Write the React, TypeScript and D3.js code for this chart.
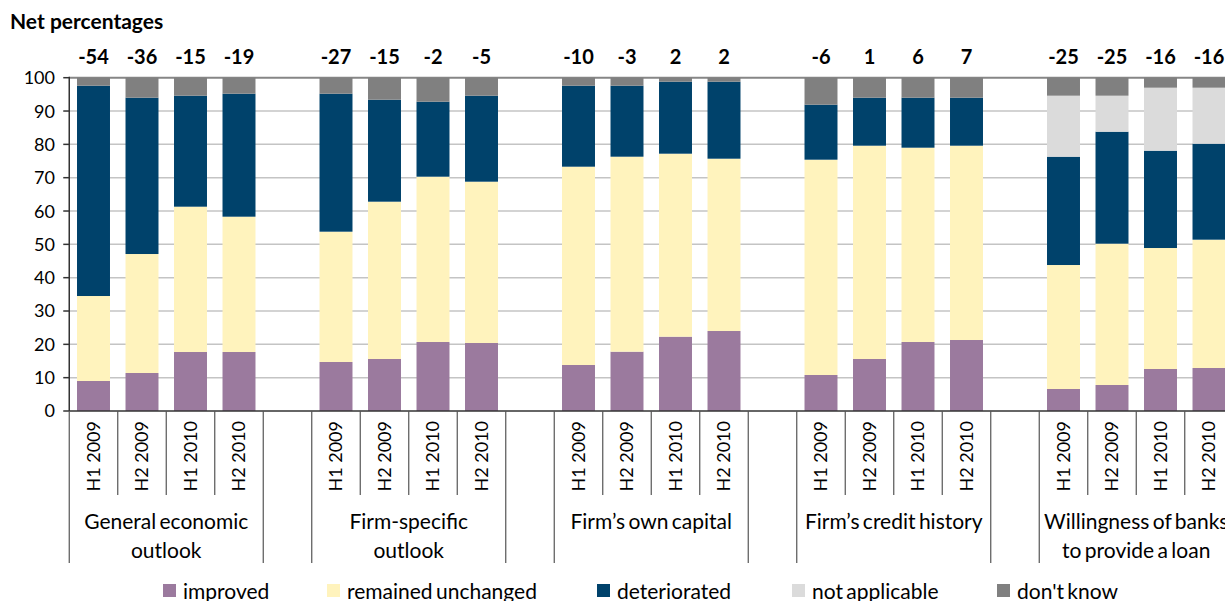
import React from "react";
import * as d3 from "d3";

const periods = ["H1 2009", "H2 2009", "H1 2010", "H2 2010"];
const groups = [
  ["General economic", "outlook"],
  ["Firm-specific", "outlook"],
  ["Firm’s own capital"],
  ["Firm’s credit history"],
  ["Willingness of banks", "to provide a loan"],
];
const seriesNames = ["improved", "remained unchanged", "deteriorated", "not applicable", "don't know"];
const improved = [9.0, 11.4, 17.7, 17.7, 14.7, 15.6, 20.7, 20.4, 13.8, 17.8, 22.3, 24.0, 10.8, 15.6, 20.7, 21.3, 6.6, 7.8, 12.6, 12.9];
const unchanged = [25.5, 35.7, 43.6, 40.6, 39.1, 47.2, 49.6, 48.4, 59.5, 58.5, 54.9, 51.7, 64.6, 64.0, 58.3, 58.3, 37.2, 42.4, 36.3, 38.5];
const deteriorated = [63.1, 46.9, 33.3, 36.9, 41.4, 30.6, 22.5, 25.8, 24.3, 21.3, 21.6, 23.1, 16.5, 14.4, 15.0, 14.4, 32.5, 33.6, 29.2, 28.8];
const notApplicable = [0, 0, 0, 0, 0, 0, 0, 0, 0, 0, 0, 0, 0, 0, 0, 0, 18.3, 10.8, 18.9, 16.8];
const dontKnow = [2.4, 6.0, 5.4, 4.8, 4.8, 6.6, 7.2, 5.4, 2.4, 2.4, 1.2, 1.2, 8.1, 6.0, 6.0, 6.0, 5.4, 5.4, 3.0, 3.0];
const netPercentages = [-54, -36, -15, -19, -27, -15, -2, -5, -10, -3, 2, 2, -6, 1, 6, 7, -25, -25, -16, -16];
const yTicks = [0, 10, 20, 30, 40, 50, 60, 70, 80, 90, 100];

const colors = ["#9B7A9E", "#FFF3BD", "#00426B", "#DBDBDB", "#808080"];
const legendX = [163, 327, 597, 792, 997];
const FONT = "Lato, 'Open Sans', sans-serif";

export default function App() {
  const W = 1225, H = 601;
  const yTop = 77.7, yBot = 411;
  const xLeft = 69.25, step = 48.5;

  const slots: string[] = [];
  groups.forEach((_, g) => {
    periods.forEach((_, p) => slots.push(`${g}-${p}`));
    if (g < groups.length - 1) slots.push(`gap${g}`);
  });
  const x = d3.scaleBand<string>()
    .domain(slots)
    .range([xLeft, xLeft + step * slots.length])
    .paddingInner(0.32)
    .paddingOuter(0.16);
  const y = d3.scaleLinear().domain([0, 100]).range([yBot, yTop]);
  const st = x.step();
  const slotLeft = (i: number) => xLeft + i * st;

  const rows = improved.map((_, i) => ({
    key: `${Math.floor(i / 4)}-${i % 4}`,
    s0: improved[i], s1: unchanged[i], s2: deteriorated[i], s3: notApplicable[i], s4: dontKnow[i],
  }));
  const stack = d3.stack<any>().keys(["s0", "s1", "s2", "s3", "s4"]);
  const layers = stack(rows);

  const longIdx: number[] = [];
  const shortIdx: number[] = [];
  let idx = 0;
  groups.forEach(() => {
    longIdx.push(idx);
    for (let p = 1; p < 4; p++) shortIdx.push(idx + p);
    longIdx.push(idx + 4);
    idx += 5;
  });

  return (
    <svg width={W} height={H} style={{ position: "absolute", left: 0, top: 0, display: "block", background: "#fff" }} fontFamily={FONT}>
      <text x={10} y={29} fontSize={21} fontWeight="bold" fill="#000">Net percentages</text>

      {yTicks.filter(t => t > 0).map(t => (
        <line key={t} x1={xLeft} x2={W} y1={y(t)} y2={y(t)} stroke={t === 100 ? "#868686" : "#C4C4C4"} strokeWidth={t === 100 ? 2 : 1.5} />
      ))}

      {layers.map((layer, si) => (
        <g key={si} fill={colors[si]}>
          {layer.map((d, i) => {
            const h = y(d[0]) - y(d[1]);
            if (h <= 0) return null;
            return <rect key={i} x={x(rows[i].key)!} width={x.bandwidth()} y={y(d[1])} height={h} />;
          })}
        </g>
      ))}

      {netPercentages.map((v, i) => (
        <text key={i} x={x(rows[i].key)! + x.bandwidth() / 2} y={64} textAnchor="middle" fontSize={20} fontWeight="bold" fill="#000">{v}</text>
      ))}

      <line x1={xLeft} x2={xLeft} y1={yTop - 1} y2={yBot} stroke="#333" strokeWidth={1.5} />
      {yTicks.map(t => (
        <g key={t}>
          <line x1={xLeft - 6} x2={xLeft} y1={y(t)} y2={y(t)} stroke="#333" strokeWidth={1.5} />
          <text x={55} y={y(t)} dy="0.36em" textAnchor="end" fontSize={18} fill="#000">{t}</text>
        </g>
      ))}

      <line x1={xLeft} x2={W} y1={yBot} y2={yBot} stroke="#333" strokeWidth={1.5} />
      {longIdx.map((i, k) => (
        <line key={"l" + k} x1={slotLeft(i)} x2={slotLeft(i)} y1={yBot} y2={563} stroke="#555" strokeWidth={1.2} />
      ))}
      {shortIdx.map((i, k) => (
        <line key={"s" + k} x1={slotLeft(i)} x2={slotLeft(i)} y1={yBot} y2={495} stroke="#555" strokeWidth={1.2} />
      ))}
      {rows.map((r, i) => {
        const cx = x(r.key)! + x.bandwidth() / 2;
        return (
          <text key={i} transform={`translate(${cx},${421}) rotate(-90)`} textAnchor="end" dy="0.36em" fontSize={18} fill="#000">{periods[i % 4]}</text>
        );
      })}
      {groups.map((lines, g) => {
        const cx = slotLeft(g * 5 + 2);
        return lines.map((ln, j) => (
          <text key={g + "-" + j} x={cx} y={529 + j * 29} textAnchor="middle" fontSize={21} wordSpacing={-2} fill="#000">{ln}</text>
        ));
      })}

      {seriesNames.map((n, i) => (
        <g key={n}>
          <rect x={legendX[i]} y={584} width={13} height={13} fill={colors[i]} />
          <text x={legendX[i] + 20} y={599} fontSize={21} wordSpacing={-2} fill="#000">{n}</text>
        </g>
      ))}
    </svg>
  );
}
